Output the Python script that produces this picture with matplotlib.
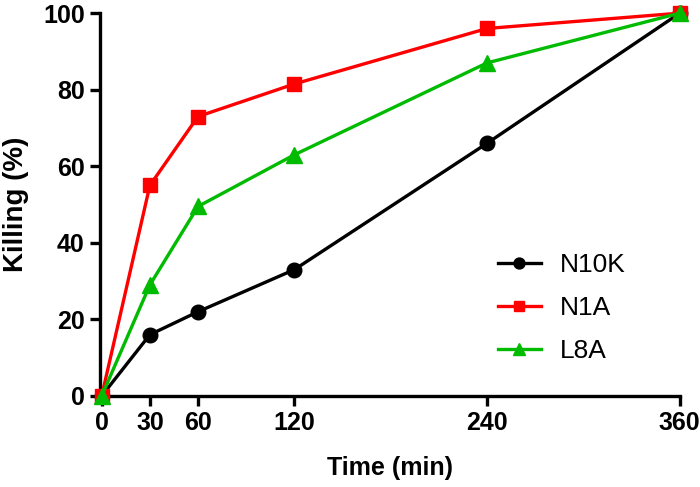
import numpy as np
import matplotlib.pyplot as plt

plt.rcParams['font.family'] = ['Liberation Sans', 'DejaVu Sans']

# data
time = [0, 30, 60, 120, 240, 360]
n10k = [0, 16, 22, 33, 66, 100]
n1a = [0, 55, 73, 81.5, 96, 100]
l8a = [0, 29, 49.5, 63, 87, 100]
xticks = [0, 30, 60, 120, 240, 360]
yticks = [0, 20, 40, 60, 80, 100]

fig = plt.figure(figsize=(7, 4.87), dpi=100)
ax = fig.add_axes([0.143, 0.187, 0.828, 0.786])

ax.plot(time, n10k, marker='o', color='black', lw=2.4, ms=10.5, label='N10K', clip_on=False, zorder=3)
ax.plot(time, n1a, marker='s', color='#ff0000', lw=2.4, ms=10.5, label='N1A', clip_on=False, zorder=3)
ax.plot(time, l8a, marker='^', color='#00bb00', lw=2.4, ms=11.5, label='L8A', clip_on=False, zorder=4)

ax.set_xlim(-1, 360)
ax.set_ylim(0, 100)
ax.set_xticks(xticks)
ax.set_yticks(yticks)
for s in ['top', 'right']:
    ax.spines[s].set_visible(False)
for s in ['left', 'bottom']:
    ax.spines[s].set_linewidth(2.4)
ax.tick_params(width=2.4, length=7, labelsize=18, pad=4)
for lab in ax.get_xticklabels() + ax.get_yticklabels():
    lab.set_fontweight('bold')

ax.set_xlabel('Time (min)', fontsize=18, fontweight='bold', labelpad=15)
ax.set_ylabel('Killing (%)', fontsize=20, fontweight='bold', labelpad=10)

ax.legend(loc='center left', bbox_to_anchor=(0.687, 0.23), frameon=False, fontsize=19,
          handlelength=1.6, labelspacing=0.72, handletextpad=0.75,
          borderpad=0, borderaxespad=0, markerscale=0.75)

plt.savefig('out.png', dpi=100)
